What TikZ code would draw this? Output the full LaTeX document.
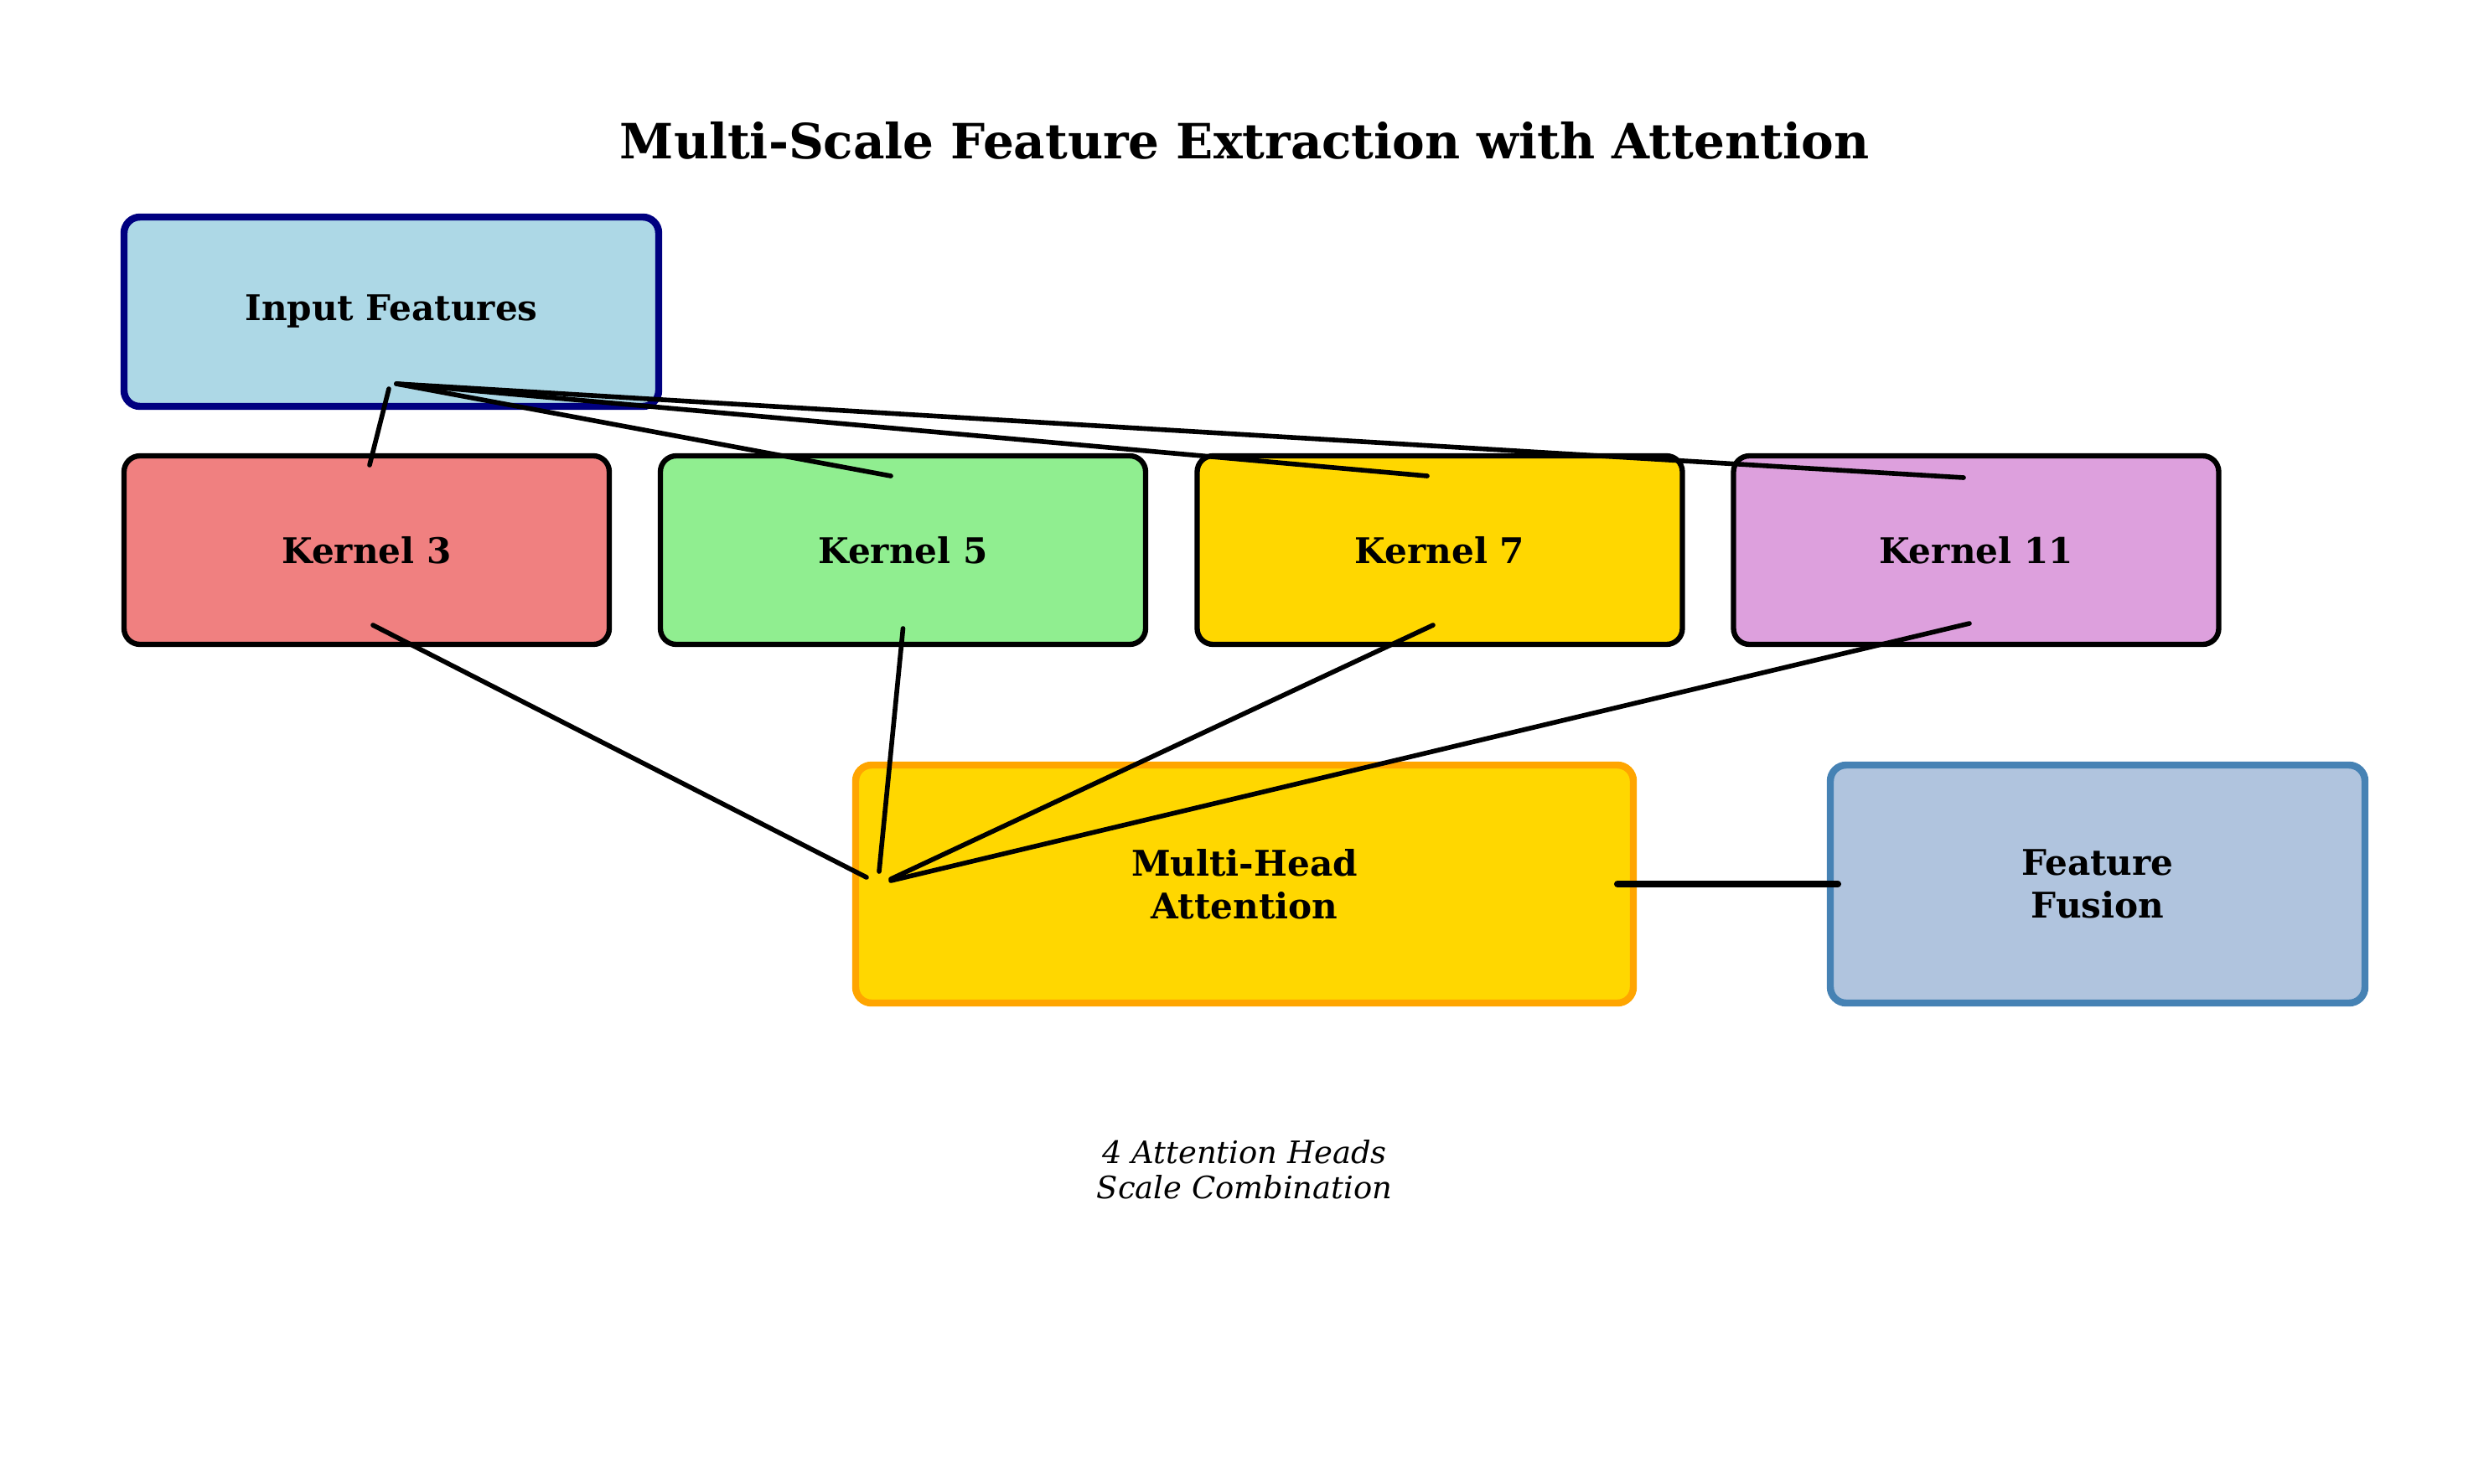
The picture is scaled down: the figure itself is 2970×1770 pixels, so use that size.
\documentclass[tikz,border=0pt]{standalone}
\usepackage{fontspec}
\setmainfont{DejaVu Serif}
\usetikzlibrary{calc}
\definecolor{cLightBlue}{HTML}{ADD8E6}
\definecolor{cNavy}{HTML}{000080}
\definecolor{cCoral}{HTML}{F08080}
\definecolor{cLightGreen}{HTML}{90EE90}
\definecolor{cGold}{HTML}{FFD700}
\definecolor{cPlum}{HTML}{DDA0DD}
\definecolor{cOrange}{HTML}{FFA500}
\definecolor{cSteelLight}{HTML}{B0C4DE}
\definecolor{cSteel}{HTML}{4682B4}
\tikzset{
  box/.style={draw, rounded corners=1.9mm, inner sep=0pt, outer sep=0pt, align=center,
    font=\fontsize{12}{14.5}\selectfont\bfseries, text=black},
  kbox/.style={box, line width=1.8pt, minimum width=57.9mm, minimum height=22.5mm},
  conn/.style={line width=1.6pt, line cap=round, black},
  fconn/.style={line width=2.3pt, line cap=round, black},
}
\begin{document}
\begin{tikzpicture}[x=0.1mm, y=-0.1mm]
\useasboundingbox (0,0) rectangle (2970,1770);
\node[font=\fontsize{16.5}{20}\selectfont\bfseries] (title) at (1485,168) {Multi-Scale Feature Extraction with Attention};
\node[box, fill=cLightBlue, draw=cNavy, line width=2.4pt, minimum width=63.8mm, minimum height=22.6mm] (inp) at (467,372) {Input Features};
\node[kbox, fill=cCoral] (k3) at (437.5,656.5) {Kernel 3};
\node[kbox, fill=cLightGreen] (k5) at (1077.5,656.5) {Kernel 5};
\node[kbox, fill=cGold] (k7) at (1718,656.5) {Kernel 7};
\node[kbox, fill=cPlum] (k11) at (2358,656.5) {Kernel 11};
\node[box, fill=cGold, draw=cOrange, line width=2.4pt, minimum width=92.8mm, minimum height=28.4mm] (mha) at (1485,1055) {Multi-Head\\Attention};
\node[box, fill=cSteelLight, draw=cSteel, line width=2.4pt, minimum width=63.8mm, minimum height=28.4mm] (ff) at (2503,1055) {Feature\\Fusion};
\node[font=\fontsize{10.5}{12}\selectfont\itshape, align=center] (cap) at (1485,1396) {4 Attention Heads\\Scale Combination};
% connectors
\draw[conn] ($(inp.south)+(-3,-21)$) -- ($(k3.north)+(3.5,11)$);
\draw[conn] ($(inp.south)+(6,-27)$) -- ($(k5.north)+(-14.5,24)$);
\draw[conn] ($(inp.south)+(6,-27)$) -- ($(k7.north)+(-15,24)$);
\draw[conn] ($(inp.south)+(6,-27)$) -- ($(k11.north)+(-15,26)$);
\draw[conn] ($(k3.south)+(7.5,-23)$) -- ($(mha.west)+(13,-8)$);
\draw[conn] ($(k5.south)+(0,-19)$) -- ($(mha.west)+(28,-15)$);
\draw[conn] ($(k7.south)+(-8,-23)$) -- ($(mha.west)+(42,-6)$);
\draw[conn] ($(k11.south)+(-8,-25)$) -- ($(mha.west)+(42,-4)$);
\draw[fconn] ($(mha.east)+(-19,0)$) -- ($(ff.west)+(9,0)$);
\end{tikzpicture}
\end{document}
